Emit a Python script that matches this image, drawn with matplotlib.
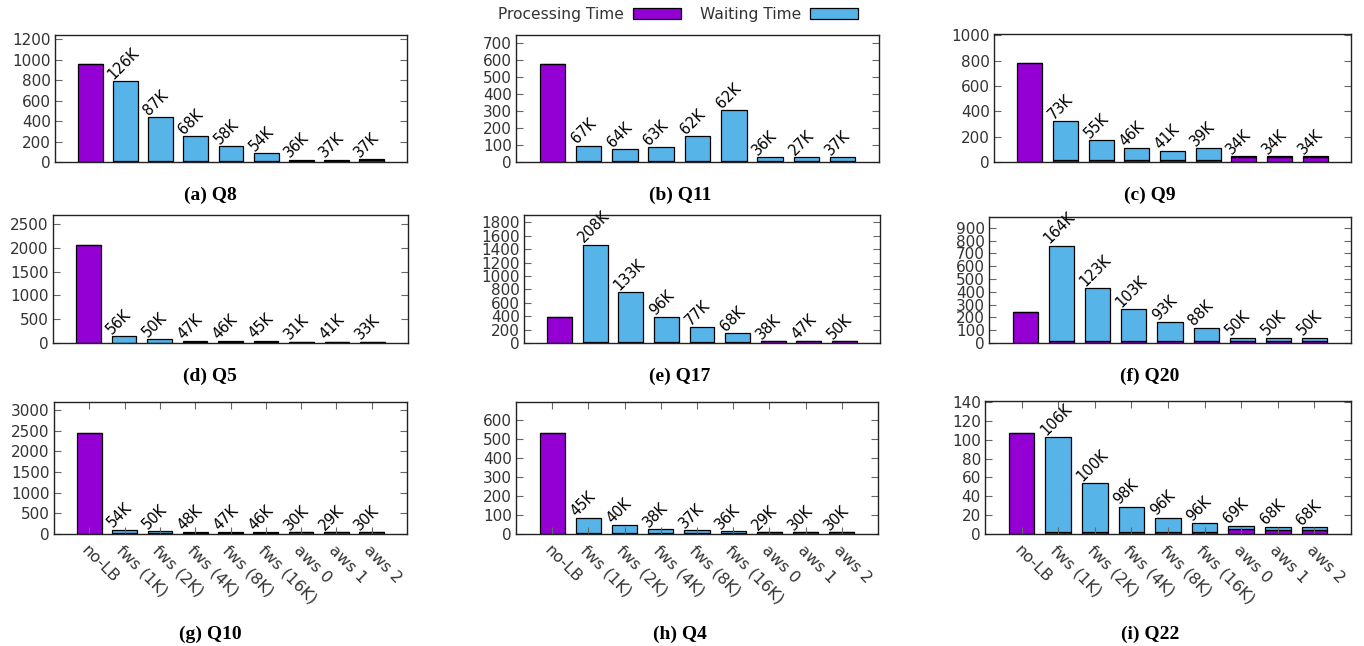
import matplotlib
matplotlib.use('Agg')
import matplotlib.pyplot as plt
from matplotlib.patches import Patch
import numpy as np

labels = ['no-LB', 'fws (1K)', 'fws (2K)', 'fws (4K)', 'fws (8K)', 'fws (16K)', 'aws 0', 'aws 1', 'aws 2']

q8_proc = [955, 5, 5, 5, 5, 5, 10, 10, 20]
q8_wait = [0, 782, 431, 245, 148, 83, 13, 13, 6]
q8_counts = ['', '126K', '87K', '68K', '58K', '54K', '36K', '37K', '37K']

q11_proc = [576, 4, 4, 4, 4, 4, 8, 8, 8]
q11_wait = [0, 92, 71, 82, 147, 302, 19, 19, 19]
q11_counts = ['', '67K', '64K', '63K', '62K', '62K', '36K', '27K', '37K']

q9_proc = [779, 15, 15, 15, 15, 15, 43, 43, 43]
q9_wait = [0, 309, 159, 95, 72, 95, 2, 2, 2]
q9_counts = ['', '73K', '55K', '46K', '41K', '39K', '34K', '34K', '34K']

q5_proc = [2067, 10, 10, 15, 15, 15, 15, 15, 15]
q5_wait = [0, 130, 74, 27, 27, 34, 13, 13, 13]
q5_counts = ['', '56K', '50K', '47K', '46K', '45K', '31K', '41K', '33K']

q17_proc = [388, 10, 10, 10, 10, 10, 30, 30, 30]
q17_wait = [0, 1457, 751, 378, 229, 139, 0, 0, 0]
q17_counts = ['', '208K', '133K', '96K', '77K', '68K', '38K', '47K', '50K']

q20_proc = [246, 15, 15, 15, 15, 15, 18, 18, 18]
q20_wait = [0, 745, 413, 247, 148, 104, 22, 22, 22]
q20_counts = ['', '164K', '123K', '103K', '93K', '88K', '50K', '50K', '50K']

q10_proc = [2437, 15, 15, 20, 20, 20, 45, 45, 45]
q10_wait = [0, 90, 57, 28, 28, 28, 3, 3, 3]
q10_counts = ['', '54K', '50K', '48K', '47K', '46K', '30K', '29K', '30K']

q4_proc = [533, 4, 4, 4, 4, 4, 9, 9, 9]
q4_wait = [0, 80, 44, 22, 15, 10, 0, 0, 0]
q4_counts = ['', '45K', '40K', '38K', '37K', '36K', '29K', '30K', '30K']

q22_proc = [107.6, 2, 2, 2, 2, 2.5, 5.3, 4.5, 4.5]
q22_wait = [0, 100.7, 51.8, 26.8, 15.2, 9.1, 3.5, 3.2, 2.5]
q22_counts = ['', '106K', '100K', '98K', '96K', '96K', '69K', '68K', '68K']

captions = ['(a) Q8', '(b) Q11', '(c) Q9', '(d) Q5', '(e) Q17', '(f) Q20', '(g) Q10', '(h) Q4', '(i) Q22']

panels = [
    (q8_proc, q8_wait, q8_counts),
    (q11_proc, q11_wait, q11_counts),
    (q9_proc, q9_wait, q9_counts),
    (q5_proc, q5_wait, q5_counts),
    (q17_proc, q17_wait, q17_counts),
    (q20_proc, q20_wait, q20_counts),
    (q10_proc, q10_wait, q10_counts),
    (q4_proc, q4_wait, q4_counts),
    (q22_proc, q22_wait, q22_counts),
]

# axis layout in pixels: left, right, top, bottom
boxes = [
    (55, 407, 35, 162), (516, 879, 35, 162), (994, 1351, 34, 162),
    (53, 408, 215, 343), (524, 880, 215, 343), (989, 1351, 217, 343),
    (54, 407, 402, 534), (516, 878, 402, 534), (985, 1351, 401, 534),
]
ytops = [1240, 750, 1010, 2690, 1910, 985, 3190, 697, 141]
ysteps = [200, 100, 200, 500, 200, 100, 500, 100, 20]
caption_x = [210, 680, 1150]
caption_y = [195, 376, 634]

W, H = 1364, 646
purple = '#9400D3'
blue = '#56B4E9'
gray = '#333333'

fig = plt.figure(figsize=(W / 100, H / 100), dpi=100)

x = np.arange(len(labels))
for k, (proc, wait, counts) in enumerate(panels):
    l, r, t, b = boxes[k]
    ax = fig.add_axes([l / W, 1 - b / H, (r - l) / W, (b - t) / H])
    ax.bar(x, proc, 0.7, color=purple, edgecolor='black', linewidth=0.9)
    ax.bar(x, wait, 0.7, bottom=proc, color=blue, edgecolor='black', linewidth=0.9)
    totals = np.array(proc) + np.array(wait)
    for i, c in enumerate(counts):
        if c:
            ax.annotate(c, (i - 0.33, totals[i]), xytext=(0, 1), textcoords='offset points',
                        rotation=45, rotation_mode='anchor', ha='left', va='baseline',
                        fontsize=10.5, color='black')
    ax.set_xlim(-1, 9)
    ax.set_ylim(0, ytops[k])
    ax.set_yticks(np.arange(0, ytops[k] + 1e-6, ysteps[k]))
    ax.tick_params(axis='y', direction='in', length=5, width=0.8, colors='#666666',
                   labelcolor=gray, labelsize=11, left=True, right=True, pad=3)
    if k >= 6:
        ax.set_xticks(x)
        ax.set_xticklabels(labels, rotation=-45, ha='left', rotation_mode='anchor')
        ax.tick_params(axis='x', direction='in', length=5, width=0.8, colors='#666666',
                       labelcolor=gray, labelsize=11.5, top=True, bottom=True, pad=6)
    else:
        ax.set_xticks([])
    for sp in ax.spines.values():
        sp.set_linewidth(1.0)
        sp.set_color('#222222')
    row, col = divmod(k, 3)
    fig.text(caption_x[col] / W, 1 - caption_y[row] / H, captions[k], ha='center', va='center',
             family='Liberation Serif', fontweight='bold', fontsize=14)

handles = [Patch(facecolor=purple, edgecolor='black', linewidth=0.9),
           Patch(facecolor=blue, edgecolor='black', linewidth=0.9)]
fig.legend(handles, ['Processing Time', 'Waiting Time'], loc='center', ncol=2,
           bbox_to_anchor=(678 / W, 1 - 14 / H), frameon=False, markerfirst=False,
           fontsize=11.2, handlelength=3.1, handleheight=0.7, handletextpad=0.6,
           columnspacing=1.2, labelcolor=gray)

fig.savefig('out.png', dpi=100, facecolor='white')
